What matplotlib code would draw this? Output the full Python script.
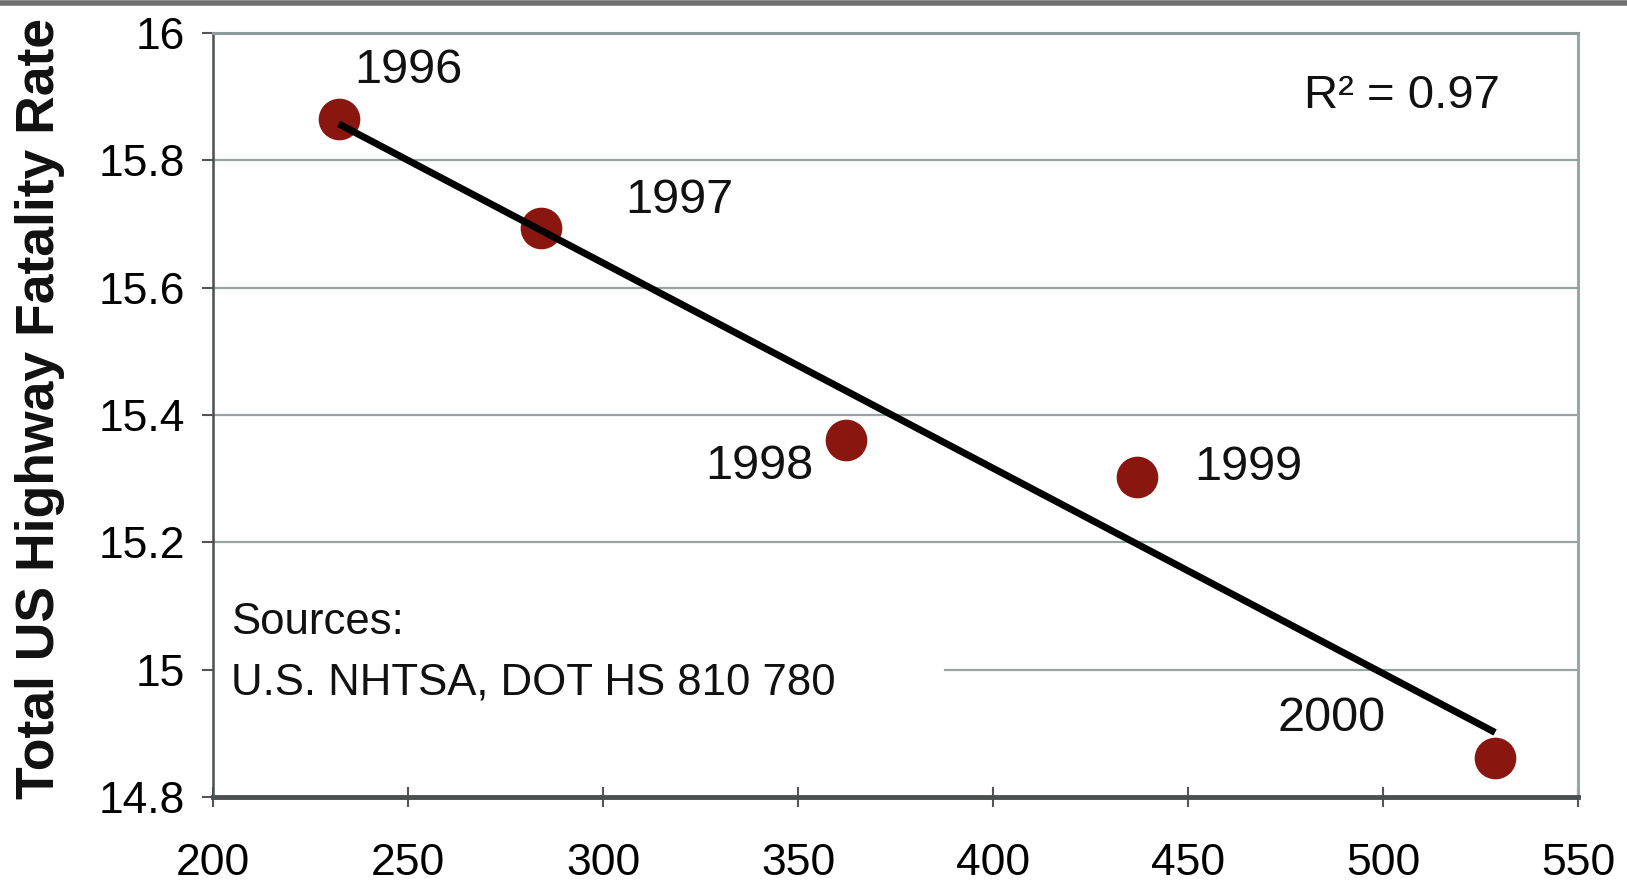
import numpy as np
import matplotlib.pyplot as plt

plt.rcParams['font.family'] = ['Liberation Sans', 'DejaVu Sans']

# data
years = ['1996', '1997', '1998', '1999', '2000']
x_vals = [232.2, 284.0, 362.2, 437.0, 528.7]
fatality_rate = [15.865, 15.694, 15.361, 15.302, 14.862]
x_ticks = [200, 250, 300, 350, 400, 450, 500, 550]
y_ticks = [14.8, 15.0, 15.2, 15.4, 15.6, 15.8, 16.0]
y_tick_labels = ['14.8', '15', '15.2', '15.4', '15.6', '15.8', '16']

# label offsets (points) for the year annotations
label_offsets = [(50, 35), (100, 20), (-62, -19), (80, 7), (-118, 28)]

fig = plt.figure(figsize=(16.27, 8.82), dpi=100)
ax = fig.add_axes([0.131, 0.0964, 0.839, 0.8662])

# grid lines (the one at 15 is hidden behind the sources note)
for yt in y_ticks[1:]:
    xmin = 0.536 if yt == 15.0 else 0
    ax.axhline(yt, xmin=xmin, color='#98a3a3', linewidth=1.6, zorder=1)

# trend line from least squares fit
slope, intercept = np.polyfit(x_vals, fatality_rate, 1)
xs = np.array([min(x_vals), max(x_vals)])
ax.plot(xs, slope * xs + intercept, color='black', linewidth=5,
        solid_capstyle='butt', zorder=4)

ax.scatter(x_vals, fatality_rate, s=900, color='#8a1610', zorder=3,
           linewidths=0)

for yr, xv, yv, off in zip(years, x_vals, fatality_rate, label_offsets):
    ax.annotate(yr, (xv, yv), xytext=off, textcoords='offset points',
                ha='center', va='center', fontsize=35, color='#111111')

pred = slope * np.array(x_vals) + intercept
ss_res = np.sum((np.array(fatality_rate) - pred) ** 2)
ss_tot = np.sum((np.array(fatality_rate) - np.mean(fatality_rate)) ** 2)
r2 = 1 - ss_res / ss_tot
ax.text(0.871, 0.918, 'R\u00b2 = %.2f' % r2, transform=ax.transAxes,
        ha='center', va='center', fontsize=34, color='#111111')

ax.text(0.013, 0.123, 'Sources:\nU.S. NHTSA, DOT HS 810 780',
        transform=ax.transAxes, ha='left', va='bottom', fontsize=31.5,
        color='#111111', linespacing=1.6, zorder=5)

ax.set_xlim(200, 550)
ax.set_ylim(14.8, 16.0)
ax.set_xticks(x_ticks)
ax.set_yticks(y_ticks)
ax.set_yticklabels(y_tick_labels)
ax.tick_params(axis='x', direction='inout', length=14, width=1.5,
               color='#555555', labelsize=32, pad=26)
ax.tick_params(axis='y', direction='out', length=8, width=1.5,
               color='#555555', labelsize=32, pad=12)

ax.spines['top'].set_color('#8f9a9a')
ax.spines['top'].set_linewidth(2.2)
ax.spines['right'].set_color('#9aa5a5')
ax.spines['right'].set_linewidth(2.2)
ax.spines['left'].set_color('#4a5050')
ax.spines['left'].set_linewidth(1.8)
ax.spines['bottom'].set_color('#4a5050')
ax.spines['bottom'].set_linewidth(3.5)

fig.text(0.0245, 1 - 799 / 882, 'Total US Highway Fatality Rate', rotation=90,
         ha='center', va='bottom', fontsize=38.5, fontweight='bold',
         color='#111111')

# thin gray frame line at the top of the picture
fig.add_artist(plt.Line2D([0, 1], [0.997, 0.997], transform=fig.transFigure,
                          color='#707070', linewidth=4))

fig.savefig('out.png', dpi=100, facecolor='white')
